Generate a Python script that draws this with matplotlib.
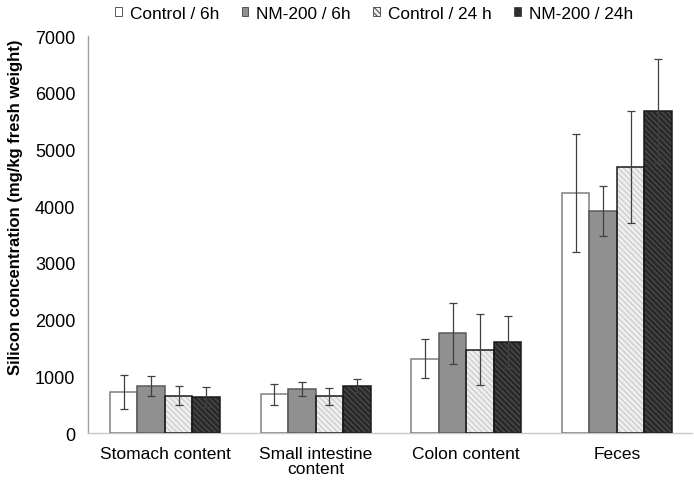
import matplotlib
matplotlib.use("Agg")
import matplotlib.pyplot as plt
import numpy as np
from matplotlib.patches import Patch

plt.rcParams['font.family'] = ['Liberation Sans', 'DejaVu Sans']
plt.rcParams['hatch.linewidth'] = 0.7

categories = ["Stomach content", "Small intestine\ncontent", "Colon content", "Feces"]
series = ["Control / 6h", "NM-200 / 6h", "Control / 24 h", "NM-200 / 24h"]
means = {
    "Control / 6h":   [720, 680, 1310, 4230],
    "NM-200 / 6h":    [830, 776, 1760, 3910],
    "Control / 24 h": [660, 650, 1470, 4690],
    "NM-200 / 24h":   [640, 835, 1600, 5680],
}
errors = {
    "Control / 6h":   [300, 190, 340, 1040],
    "NM-200 / 6h":    [180, 125, 540, 440],
    "Control / 24 h": [170, 150, 620, 980],
    "NM-200 / 24h":   [180, 110, 460, 920],
}
yticks = [0, 1000, 2000, 3000, 4000, 5000, 6000, 7000]

styles = {
    "Control / 6h":   dict(fc="white", hatch=None, hc="white", ec="#7f7f7f"),
    "NM-200 / 6h":    dict(fc="#909090", hatch=None, hc="#909090", ec="#5a5a5a"),
    "Control / 24 h": dict(fc="#eeeeee", hatch="\\\\\\\\\\\\", hc="#c4c4c4", ec="#1a1a1a"),
    "NM-200 / 24h":   dict(fc="#2a2a2a", hatch="\\\\\\\\\\\\", hc="#555555", ec="#1a1a1a"),
}

fig = plt.figure(figsize=(6.94, 4.81), dpi=100)
ax = fig.add_axes([0.1268, 0.0977, 0.870, 0.8253])

x = np.arange(len(categories))
w = 0.1825
for i, s in enumerate(series):
    pos = x + (i - 1.5) * w
    st = styles[s]
    ax.bar(pos, means[s], width=w, color=st["fc"], hatch=st["hatch"],
           edgecolor=st["hc"], linewidth=0, zorder=2)
    ax.bar(pos, means[s], width=w, fill=False, edgecolor=st["ec"],
           linewidth=1.1, zorder=3)
    ax.errorbar(pos, means[s], yerr=errors[s], fmt="none", ecolor="#404040",
                elinewidth=0.9, capsize=3, capthick=0.9, zorder=4)

ax.set_xlim(-0.511, 3.497)
ax.set_ylim(0, 7000)
ax.set_yticks(yticks)
ax.set_yticklabels([str(v) for v in yticks], fontsize=13)
ax.set_xticks(x)
ax.set_xticklabels(categories, fontsize=12.5, linespacing=1.0)
ax.tick_params(axis="x", length=0, pad=9)
ax.tick_params(axis="y", length=0, pad=9)
for sp in ["top", "right"]:
    ax.spines[sp].set_visible(False)
ax.spines["left"].set_color("#a0a0a0")
ax.spines["bottom"].set_color("#c8c8c8")
ax.spines["left"].set_linewidth(1.0)
ax.spines["bottom"].set_linewidth(1.0)
ax.set_ylabel("Silicon concentration (mg/kg fresh weight)", fontsize=12,
              fontweight="bold")
ax.yaxis.set_label_coords(-0.108, 0.57)

handles = []
for s in series:
    st = styles[s]
    handles.append(Patch(facecolor=st["fc"], edgecolor="#404040", hatch=st["hatch"],
                         linewidth=0.6, label=s))
fig.legend(handles=handles, loc="upper center", bbox_to_anchor=(0.539, 1.018),
           ncol=4, frameon=False, fontsize=12.4, handlelength=0.4,
           handleheight=0.4, handletextpad=0.45, columnspacing=1.3)

fig.savefig("out.png", dpi=100)
